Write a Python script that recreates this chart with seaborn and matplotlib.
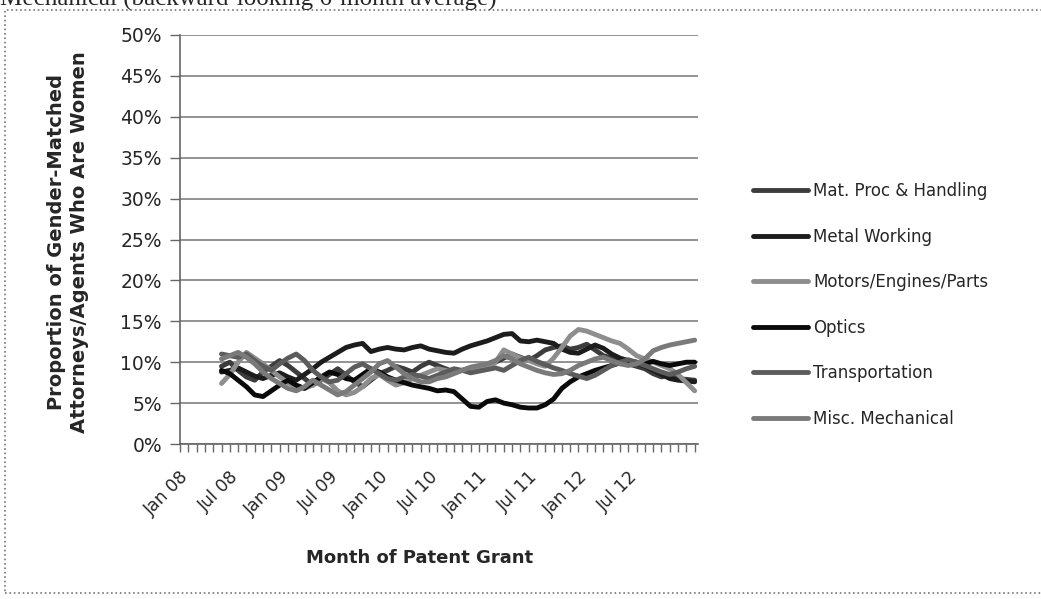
import numpy as np
import pandas as pd
import matplotlib
matplotlib.use("Agg")
import matplotlib.pyplot as plt
from matplotlib.patches import Rectangle
import seaborn as sns

# Months of data (backward-looking 6-month average starts Jun 2008)
months = pd.date_range("2008-06-01", "2013-03-01", freq="MS")

mat_proc = [9.5, 10.0, 9.0, 8.2, 7.8, 8.8, 9.5,
            10.2, 9.6, 8.8, 8.0, 7.2, 7.8,
            8.5, 9.2, 8.4, 7.6, 7.0, 7.8,
            8.6, 9.0, 9.5, 9.2, 8.8, 9.5,
            10.0, 9.6, 9.2, 8.8, 9.0, 9.3,
            9.0, 9.4, 10.0, 10.5, 11.0, 10.6,
            10.2, 10.8, 11.5, 11.8, 12.0, 11.6,
            11.8, 12.2, 11.5, 10.8, 10.5, 10.0,
            9.8, 9.5, 9.2, 8.6, 8.2, 8.4,
            8.0, 7.9, 7.8]
metal_working = [8.8, 9.0, 9.3, 8.8, 8.3, 8.0, 8.4,
                 8.7, 8.2, 7.8, 8.5, 9.2, 10.0,
                 10.6, 11.2, 11.8, 12.1, 12.3, 11.3,
                 11.6, 11.8, 11.6, 11.5, 11.8, 12.0,
                 11.6, 11.4, 11.2, 11.1, 11.6, 12.0,
                 12.3, 12.6, 13.0, 13.4, 13.5, 12.6,
                 12.5, 12.7, 12.5, 12.3, 11.6, 11.2,
                 11.1, 11.6, 12.1, 11.7, 11.0, 10.5,
                 10.2, 9.9, 9.5, 9.0, 8.5, 8.0,
                 7.8, 7.7, 7.6]
motors = [7.4, 8.5, 10.0, 11.2, 10.5, 9.8, 9.0,
          8.2, 7.5, 7.0, 6.8, 7.2, 8.0,
          7.5, 6.5, 6.0, 6.3, 7.0, 8.0,
          8.5, 7.8, 7.2, 7.5, 8.0, 8.4,
          8.8, 9.2, 9.0, 8.8, 9.0, 9.2,
          9.0, 9.4, 10.0, 11.5, 11.0, 10.5,
          10.2, 9.8, 9.5, 10.5, 11.8, 13.2,
          14.0, 13.8, 13.4, 13.0, 12.6, 12.3,
          11.6, 10.8, 10.4, 10.0, 9.6, 9.2,
          8.5, 7.5, 6.5]
optics = [9.0, 8.6, 7.8, 7.0, 6.0, 5.8, 6.5,
          7.2, 7.8, 7.2, 6.8, 7.5, 8.2,
          8.8, 8.5, 8.0, 7.8, 8.5, 9.2,
          8.8, 8.2, 7.8, 7.5, 7.2, 7.0,
          6.8, 6.5, 6.6, 6.4, 5.5, 4.6,
          4.5, 5.2, 5.4, 5.0, 4.8, 4.5,
          4.4, 4.4, 4.8, 5.5, 6.8, 7.6,
          8.2, 8.6, 9.0, 9.3, 9.6, 9.9,
          10.2, 10.0, 9.8, 10.1, 9.8, 9.6,
          9.8, 10.0, 10.0]
transportation = [11.0, 10.8, 10.6, 11.0, 10.2, 9.5, 9.0,
                  9.8, 10.5, 11.0, 10.2, 9.0, 8.2,
                  7.6, 7.8, 8.6, 9.4, 9.8, 9.2,
                  8.6, 8.0, 7.8, 8.2, 8.5, 8.3,
                  8.0, 8.4, 8.8, 9.2, 9.0, 8.7,
                  8.9, 9.1, 9.3, 9.0, 9.6, 10.2,
                  10.6, 10.1, 9.7, 9.3, 9.0, 8.6,
                  8.3, 8.0, 8.4, 9.0, 9.6, 10.0,
                  10.3, 10.0, 9.6, 9.2, 8.8, 8.5,
                  8.8, 9.2, 9.5]
misc_mech = [10.4, 10.8, 11.2, 10.6, 9.8, 8.8, 8.0,
             7.4, 6.8, 6.5, 7.0, 7.8, 7.2,
             6.6, 6.0, 6.4, 7.2, 8.0, 8.8,
             9.8, 10.2, 9.4, 8.6, 8.0, 7.6,
             7.6, 8.0, 8.2, 8.6, 9.0, 9.4,
             9.6, 9.8, 10.2, 10.8, 10.4, 9.8,
             9.4, 9.0, 8.7, 8.5, 8.6, 9.0,
             9.6, 10.0, 10.4, 10.6, 10.2, 9.8,
             9.6, 9.8, 10.4, 11.4, 11.8, 12.1,
             12.3, 12.5, 12.7]

series_names = ["Mat. Proc & Handling", "Metal Working", "Motors/Engines/Parts",
                "Optics", "Transportation", "Misc. Mechanical"]
series_values = [mat_proc, metal_working, motors, optics, transportation, misc_mech]
series_colors = ["#3c3c3c", "#1c1c1c", "#8e8e8e", "#0a0a0a", "#5c5c5c", "#7a7a7a"]

tick_labels = ["Jan 08", "Jul 08", "Jan 09", "Jul 09", "Jan 10",
               "Jul 10", "Jan 11", "Jul 11", "Jan 12", "Jul 12"]

# month index counted from Jan 2008
month_idx = (months.year - 2008) * 12 + (months.month - 1)

df = pd.concat([pd.DataFrame({"month": month_idx, "share": vals, "series": name})
                for name, vals in zip(series_names, series_values)])

sns.set_style("white")
plt.rcParams["font.family"] = ["DejaVu Sans"]

W, H = 1041, 599
fig = plt.figure(figsize=(W / 100, H / 100), dpi=100)
ax = fig.add_axes([180 / W, 1 - 444 / H, 518 / W, 409 / H])

sns.lineplot(data=df, x="month", y="share", hue="series", hue_order=series_names,
             palette=dict(zip(series_names, series_colors)), linewidth=3.5,
             legend=False, ax=ax)

ax.set_xlim(0, 62.4)
ax.set_ylim(0, 50)
ax.set_yticks(np.arange(0, 51, 5))
ax.set_yticklabels([f"{v}%" for v in range(0, 51, 5)], fontsize=13.5)
ax.set_xticks(np.arange(0, 55, 6))
ax.set_xticklabels(tick_labels, rotation=45, ha="right", rotation_mode="anchor", fontsize=12.5)
ax.set_xticks(np.arange(0, 63, 1), minor=True)
ax.tick_params(axis="x", which="both", bottom=True, direction="out", length=6,
               color="#666666", width=1, pad=11)
ax.tick_params(axis="y", left=True, direction="out", length=7, color="#666666", width=1, pad=6)
ax.grid(axis="y", color="#808080", linewidth=1.2)
ax.set_axisbelow(True)
ax.set_xlabel("")
ax.set_ylabel("")
for s in ["top", "right"]:
    ax.spines[s].set_visible(False)
for s in ["left", "bottom"]:
    ax.spines[s].set_color("#666666")
    ax.spines[s].set_linewidth(1.2)

# axis titles
fig.text(420 / W, 1 - 558 / H, "Month of Patent Grant", ha="center", va="center",
         fontsize=13, fontweight="bold")
fig.text(68 / W, 1 - 242 / H, "Proportion of Gender-Matched\nAttorneys/Agents Who Are Women",
         ha="center", va="center", rotation=90, fontsize=14, fontweight="bold",
         linespacing=1.25, multialignment="center")

# legend
handles = [plt.Line2D([], [], color=c, linewidth=3.5) for c in series_colors]
fig.legend(handles, series_names, loc="center left", bbox_to_anchor=(753 / W, 1 - 305 / H),
           frameon=False, fontsize=12, handlelength=3.3, handletextpad=0.3,
           labelspacing=1.65, borderpad=0, borderaxespad=0)

# caption from the page above the chart, cut at the top edge as in the source image
fig.text(0, 1 - 6 / H, "Mechanical (backward-looking 6-month average)", ha="left",
         va="baseline", fontsize=18, family="Liberation Serif")

# chart border
fig.patches.append(Rectangle((5 / W, 1 - 593 / H), 1.1, (593 - 10) / H, transform=fig.transFigure,
                             fill=False, edgecolor="#777777", linewidth=1.2, linestyle=":"))

fig.savefig("out.png", dpi=100)
